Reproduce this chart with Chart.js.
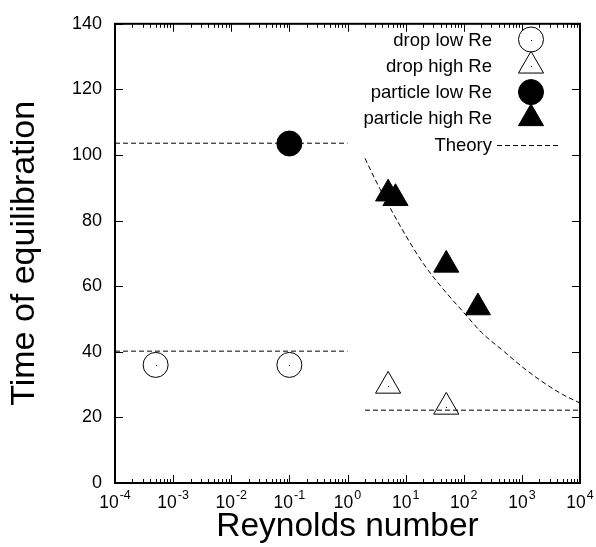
<!DOCTYPE html>
<html>
<head>
<meta charset="utf-8">
<script src="https://cdn.jsdelivr.net/npm/chart.js@4.4.1/dist/chart.umd.min.js"></script>
<style>
  html, body { margin: 0; padding: 0; background: #fff; }
</style>
</head>
<body>
<canvas id="myChart" width="596" height="547"></canvas>
<script>
// data ---------------------------------------------
const dropLowRe = [5e-4, 0.1];
const dropLowT = [36, 36];
const dropHighRe = [5, 50];
const dropHighT = [29.6, 23.2];
const partLowRe = [0.1];
const partLowT = [103.5];
const partHighRe = [5, 6.7, 50, 175];
const partHighT = [88.2, 86.8, 66.5, 53.5];

// theory lines
const theoryTopRe = [1e-4, 1];
const theoryTopT = [103.6, 103.6];
const theoryMidRe = [1e-4, 1];
const theoryMidT = [40.2, 40.2];
const theoryLowRe = [2, 1e4];
const theoryLowT = [22.2, 22.2];
const theoryCurveRe = [2, 3, 5, 10, 20, 50, 100, 200, 500, 1000, 2000, 5000, 10000];
const theoryCurveT = [99, 92.5, 85, 75.5, 67, 58, 52, 46, 40, 35.5, 31.5, 27, 24.4];

// ticks
const xDecades = [-4, -3, -2, -1, 0, 1, 2, 3, 4];
const yTickValues = [0, 20, 40, 60, 80, 100, 120, 140];

const FONT = "'Liberation Sans', Arial, Helvetica, sans-serif";

function pts(xs, ys) {
  return xs.map((x, i) => ({ x: x, y: ys[i] }));
}

function markerSet(label, xs, ys, style, radius, fill, hollow) {
  return {
    label: label,
    data: pts(xs, ys),
    pointStyle: style,
    pointRadius: radius,
    pointHoverRadius: radius,
    pointBackgroundColor: fill,
    pointBorderColor: "#000",
    pointBorderWidth: 1,
    showLine: false,
    hollow: hollow,
  };
}

function theorySet(label, xs, ys) {
  return {
    label: label,
    data: pts(xs, ys),
    showLine: true,
    pointRadius: 0,
    borderColor: "#000",
    borderWidth: 1,
    borderDash: [5, 3],
    cubicInterpolationMode: "monotone",
    isLine: true,
  };
}

const datasets = [
  theorySet("Theory", theoryCurveRe, theoryCurveT),
  theorySet("Theory", theoryTopRe, theoryTopT),
  theorySet("Theory", theoryMidRe, theoryMidT),
  theorySet("Theory", theoryLowRe, theoryLowT),
  markerSet("drop low Re", dropLowRe, dropLowT, "circle", 12.5, "#fff", true),
  markerSet("drop high Re", dropHighRe, dropHighT, "triangle", 14.5, "#fff", true),
  markerSet("particle low Re", partLowRe, partLowT, "circle", 12.5, "#000", false),
  markerSet("particle high Re", partHighRe, partHighT, "triangle", 14.5, "#000", false),
];

// legend order
const legendOrder = [4, 5, 6, 7, 0];

// plugin: frame, inward ticks, x labels, legend ---------------------------
const framePlugin = {
  id: "framePlugin",
  afterDatasetsDraw(chart) {
    const ctx = chart.ctx;
    ctx.save();
    ctx.fillStyle = "#000";
    chart.data.datasets.forEach((ds, i) => {
      if (!ds.hollow) return;
      chart.getDatasetMeta(i).data.forEach((el) => {
        ctx.fillRect(Math.round(el.x), Math.round(el.y), 1, 1);
      });
    });
    ctx.restore();
  },
  afterDraw(chart) {
    const ctx = chart.ctx;
    const a = chart.chartArea;
    const xs = chart.scales.x;
    const ys = chart.scales.y;
    ctx.save();
    ctx.strokeStyle = "#000";
    ctx.lineWidth = 1;
    ctx.beginPath();
    yTickValues.forEach((v) => {
      const p = Math.round(ys.getPixelForValue(v)) + 0.5;
      ctx.moveTo(a.left, p);
      ctx.lineTo(a.left + 8, p);
      ctx.moveTo(a.right, p);
      ctx.lineTo(a.right - 8, p);
    });
    xDecades.forEach((e) => {
      for (let m = 1; m <= 9; m++) {
        if (e === 4 && m > 1) break;
        const p = Math.round(xs.getPixelForValue(m * Math.pow(10, e))) + 0.5;
        const len = m === 1 ? 8 : 4;
        ctx.moveTo(p, a.bottom);
        ctx.lineTo(p, a.bottom - len);
        ctx.moveTo(p, a.top);
        ctx.lineTo(p, a.top + len);
      }
    });
    ctx.stroke();
    ctx.lineWidth = 2;
    ctx.strokeRect(a.left, a.top, a.right - a.left, a.bottom - a.top);

    // x tick labels 10^n
    ctx.fillStyle = "#000";
    ctx.textBaseline = "alphabetic";
    ctx.textAlign = "left";
    xDecades.forEach((e) => {
      const p = xs.getPixelForValue(Math.pow(10, e));
      ctx.font = "17.5px " + FONT;
      const wBase = ctx.measureText("10").width;
      ctx.font = "12.5px " + FONT;
      const expText = String(e);
      const wExp = ctx.measureText(expText).width;
      const start = p - (wBase + 1 + wExp) / 2;
      ctx.font = "17.5px " + FONT;
      ctx.fillText("10", start, a.bottom + 25);
      ctx.font = "12.5px " + FONT;
      ctx.fillText(expText, start + wBase + 1, a.bottom + 16);
    });

    // legend
    const textRight = 492;
    const markX = 531;
    const rowTop = 39.5;
    const rowStep = 26.3;
    ctx.font = "18.5px " + FONT;
    ctx.textAlign = "right";
    ctx.textBaseline = "middle";
    legendOrder.forEach((idx, row) => {
      const ds = chart.data.datasets[idx];
      const y = rowTop + row * rowStep;
      ctx.fillStyle = "#000";
      ctx.fillText(ds.label, textRight, y + 1);
      if (ds.isLine) {
        ctx.strokeStyle = "#000";
        ctx.lineWidth = 1;
        ctx.setLineDash(ds.borderDash);
        ctx.beginPath();
        ctx.moveTo(497, Math.round(y) + 0.5);
        ctx.lineTo(558, Math.round(y) + 0.5);
        ctx.stroke();
        ctx.setLineDash([]);
      } else {
        ctx.fillStyle = ds.pointBackgroundColor;
        ctx.strokeStyle = "#000";
        ctx.lineWidth = 1;
        Chart.helpers.drawPoint(ctx, {
          pointStyle: ds.pointStyle,
          radius: ds.pointRadius,
          borderWidth: 1,
          rotation: 0,
        }, markX, y);
        if (ds.hollow) {
          ctx.fillStyle = "#000";
          ctx.fillRect(markX, Math.round(y), 1, 1);
        }
      }
    });
    ctx.restore();
  },
};

// chart ---------------------------------------------
const ctx = document.getElementById("myChart").getContext("2d");
const myChart = new Chart(ctx, {
  type: "scatter",
  data: { datasets: datasets },
  plugins: [framePlugin],
  options: {
    responsive: false,
    animation: false,
    devicePixelRatio: 1,
    layout: { padding: { top: 17, right: 16, left: 0, bottom: 0 } },
    plugins: {
      legend: { display: false },
      tooltip: { enabled: false },
    },
    scales: {
      x: {
        type: "logarithmic",
        min: 1e-4,
        max: 1e4,
        grid: { display: false, drawTicks: false },
        border: { display: false },
        ticks: { display: false },
        title: {
          display: true,
          text: "Reynolds number",
          color: "#000",
          font: { family: FONT, size: 33.5 },
          padding: { top: 0, bottom: 0 },
        },
        afterFit(scale) {
          scale.height = 64;
        },
      },
      y: {
        type: "linear",
        min: 0,
        max: 140,
        grid: { display: false, drawTicks: false },
        border: { display: false },
        ticks: {
          stepSize: 20,
          color: "#000",
          padding: 13,
          font: { family: FONT, size: 18 },
        },
        title: {
          display: true,
          text: "Time of equilibration",
          color: "#000",
          font: { family: FONT, size: 34 },
          padding: { top: 4, bottom: 0 },
        },
        afterFit(scale) {
          scale.width = 115;
        },
      },
    },
  },
});
</script>
</body>
</html>
